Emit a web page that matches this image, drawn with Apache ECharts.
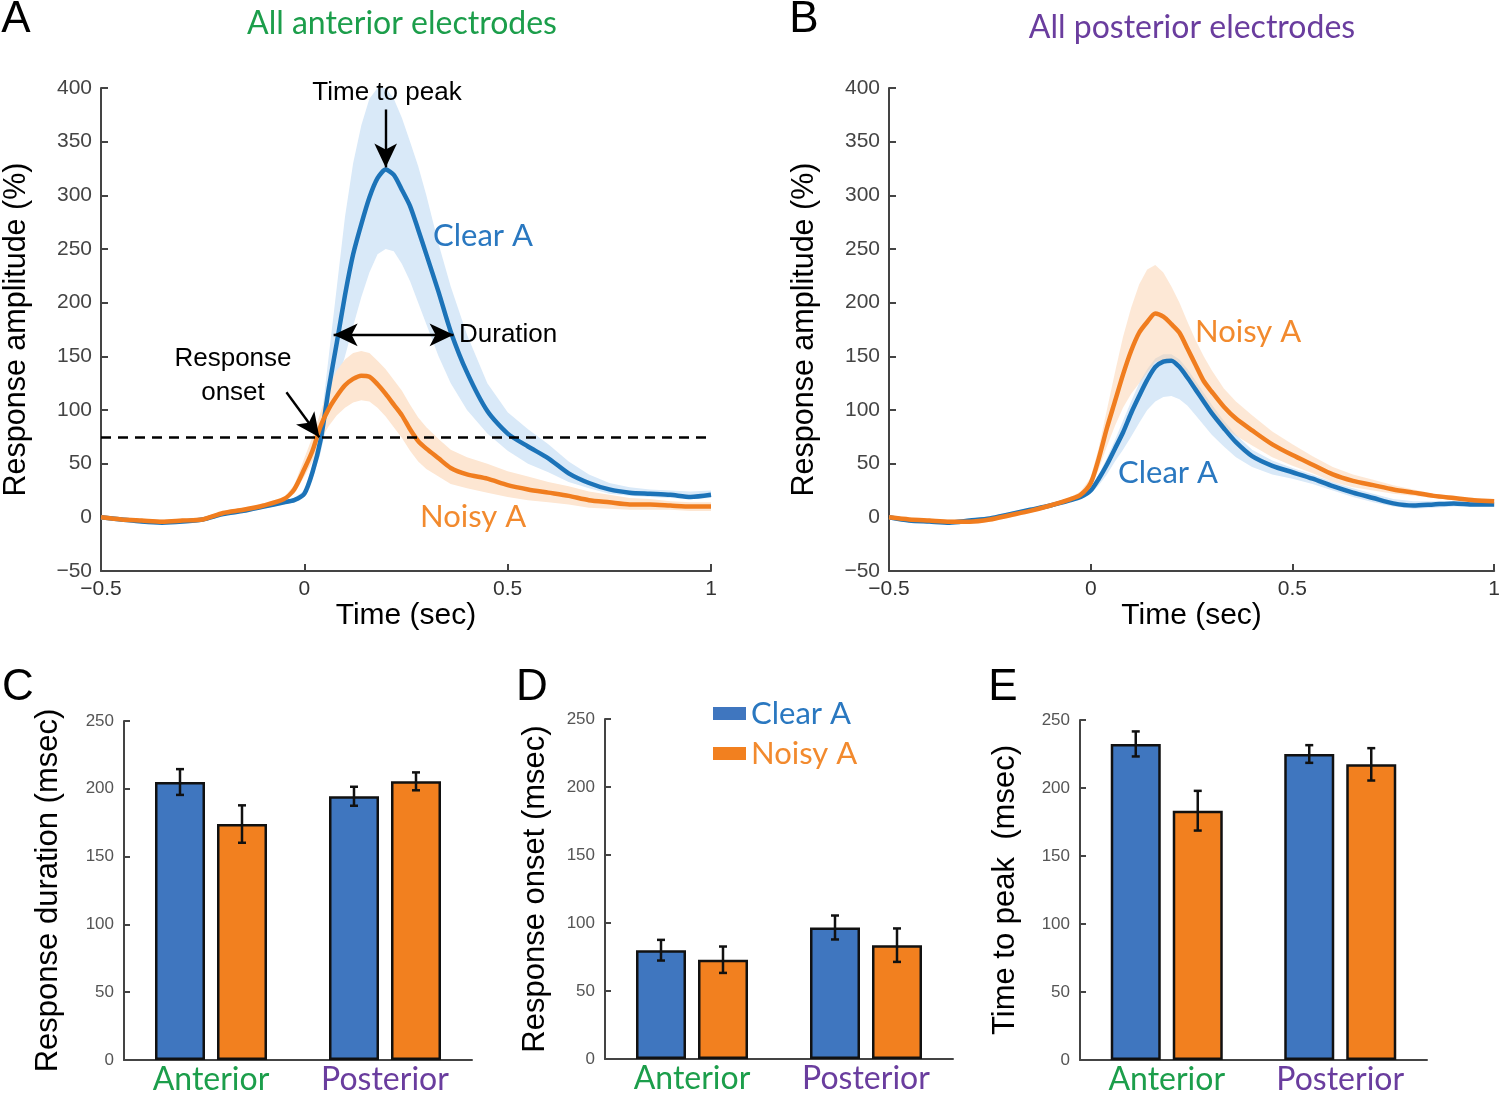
<!DOCTYPE html>
<html>
<head>
<meta charset="utf-8">
<script src="https://cdn.jsdelivr.net/npm/echarts@6/dist/echarts.min.js"></script>
<style>
html,body{margin:0;padding:0;background:#fff;}
#chart{width:1503px;height:1096px;}
</style>
</head>
<body>
<div id="chart"></div>
<script>
// ---------------- DATA ----------------
// time (sec) sample points for panels A and B
const times = [-0.5,-0.45,-0.4,-0.35,-0.3,-0.25,-0.2,-0.15,-0.1,-0.05,-0.025,0,0.02,0.04,0.06,0.08,0.1,0.12,0.14,0.16,0.18,0.2,0.22,0.24,0.26,0.28,0.3,0.33,0.36,0.4,0.45,0.5,0.55,0.6,0.65,0.7,0.75,0.8,0.85,0.9,0.95,1.0];

// Panel A: all anterior electrodes (response amplitude, %)
const antClear      = [0,-2,-4,-5,-4,-2,3,6,10,14,16,22,42,72,120,163,207,245,273,298,316,324,319,305,290,268,245,210,173,135,99,78,66,55,41,32,26,23,22,21,19,21];
const antClearUpper = [2,0,-2,-3,-2,0,5,8,12,16,18,25,48,85,150,215,280,330,365,390,400,400,390,372,350,327,300,255,215,170,125,98,82,68,52,40,32,28,26,25,24,25];
const antClearLower = [-2,-4,-6,-7,-6,-4,1,4,8,12,14,19,36,60,95,125,150,178,205,228,245,250,248,236,220,200,180,150,125,100,78,62,50,42,33,27,22,20,19,18,17,18];
const antNoisy      = [0,-2,-3,-4,-3,-2,4,7,11,17,26,45,62,85,101,113,123,129,132,131,124,115,105,95,82,71,64,55,46,40,36,30,26,23,20,16,14,12,12,11,10,10];
const antNoisyUpper = [2,0,-1,-2,-1,0,6,9,13,19,30,55,75,98,122,137,147,153,155,153,146,138,128,118,105,93,84,73,63,56,50,43,38,33,29,24,21,18,17,15,14,14];
const antNoisyLower = [-2,-4,-5,-6,-5,-4,2,5,9,15,22,38,52,72,85,95,102,107,109,108,102,94,84,74,62,52,45,38,31,27,23,19,16,14,12,9,8,7,7,7,6,6];

// Panel B: all posterior electrodes
const postClear      = [0,-3,-4,-5,-3,-1,3,7,11,16,19,25,36,49,64,79,97,113,128,140,145,146,140,130,119,108,97,83,70,57,48,42,36,29,23,18,13,11,12,13,12,12];
const postClearUpper = [2,-1,-2,-3,-1,1,5,9,13,18,21,27,40,55,72,90,108,125,138,148,152,152,147,138,127,116,105,90,77,63,53,46,40,33,27,22,17,15,15,15,14,14];
const postClearLower = [-2,-5,-6,-7,-5,-3,1,5,9,14,17,22,30,40,52,63,75,88,100,108,112,113,110,104,95,86,77,66,56,47,40,36,31,25,19,14,10,8,9,10,10,10];
const postNoisy      = [0,-2,-3,-4,-4,-2,2,6,11,17,21,32,55,83,108,133,155,172,182,190,187,180,172,157,142,127,117,103,92,81,68,58,49,40,34,30,26,23,20,18,16,15];
const postNoisyUpper = [2,0,-1,-2,-2,0,4,8,13,19,24,37,65,100,135,168,195,217,231,235,228,215,200,182,165,150,137,120,108,95,80,68,57,47,40,35,30,26,22,20,18,17];
const postNoisyLower = [-2,-4,-5,-6,-6,-4,0,4,9,15,18,27,45,66,85,102,115,125,135,145,146,145,144,132,121,106,97,84,76,67,56,48,41,33,28,25,22,20,18,16,14,13];

// Bar panels
const groups = ['Anterior','Posterior'];
const durationClear = [205, 194.5];  const durationClearErr = [9.5, 7];
const durationNoisy = [174, 205.5];  const durationNoisyErr = [13.8, 6.6];
const onsetClear    = [80, 96.7];    const onsetClearErr    = [7.6, 8.8];
const onsetNoisy    = [73, 83.7];    const onsetNoisyErr    = [9.7, 12.3];
const peakClear     = [232.4, 225];  const peakClearErr     = [9.2, 6.5];
const peakNoisy     = [183.3, 217.4];const peakNoisyErr     = [14.6, 11.9];

const ampTicks = [-50,0,50,100,150,200,250,300,350,400];
const timeTicks = [-0.5,0,0.5,1];
const msecTicks = [0,50,100,150,200,250];
const threshold = 75;

// ---------------- STYLE ----------------
const BLUE = '#1c73b8', ORANGE = '#f07d1f';
const BLUE_BAND = '#d9e9f8', ORANGE_BAND = '#fde6d2';
const BAR_BLUE = '#3f76bf', BAR_ORANGE = '#f2801f';
const GREEN = '#1c9e4b', PURPLE = '#6a3d9e';
const HELV = '"Liberation Sans", Arial, sans-serif';
const MYR = 'Lato, "Open Sans", sans-serif';
const AX = '#444';
const BAR_W = 50, BAR_GAP = 12;

const fmtNum = v => (v < 0 ? '\u2212' + Math.abs(v) : String(v));

function pairs(xs, ys){ return xs.map((x,i)=>[x, ys[i]]); }

function bandSeries(idx, upper, lower, color, z){
  return {
    type:'custom', xAxisIndex:idx, yAxisIndex:idx, silent:true, z:z, clip:true,
    data:[[times[0], lower[0]]],
    renderItem:function(params, api){
      const pts = [];
      for (let i=0;i<times.length;i++) pts.push(api.coord([times[i], upper[i]]));
      for (let i=times.length-1;i>=0;i--) pts.push(api.coord([times[i], lower[i]]));
      return {type:'polygon', shape:{points:pts}, style:{fill:color}};
    }
  };
}
function lineSeries(idx, name, vals, color, z, extra){
  return Object.assign({
    type:'line', name:name, xAxisIndex:idx, yAxisIndex:idx, data:pairs(times, vals),
    showSymbol:false, smooth:0.25, z:z, silent:true,
    lineStyle:{color:color, width:4.5}, itemStyle:{color:color}
  }, extra||{});
}
function valueAxisX(idx, name){
  return {
    type:'value', gridIndex:idx, min:-0.5, max:1, interval:0.5,
    axisLine:{onZero:false, lineStyle:{color:AX, width:2}},
    axisTick:{inside:true, length:7, lineStyle:{color:AX, width:2}},
    axisLabel:{formatter:fmtNum, color:'#333', fontSize:21, fontFamily:HELV, margin:8},
    splitLine:{show:false},
    name:name, nameLocation:'middle', nameGap:30,
    nameTextStyle:{color:'#000', fontSize:30, fontFamily:HELV}
  };
}
function valueAxisY(idx, name){
  return {
    type:'value', gridIndex:idx, min:-50, max:400, interval:50,
    axisLine:{show:true, onZero:false, lineStyle:{color:AX, width:2}},
    axisTick:{show:true, inside:true, length:7, lineStyle:{color:AX, width:2}},
    axisLabel:{formatter:fmtNum, color:'#444', fontSize:21, fontFamily:HELV, margin:9},
    splitLine:{show:false},
    name:name, nameLocation:'middle', nameGap:69,
    nameTextStyle:{color:'#000', fontSize:30.5, fontFamily:HELV}
  };
}
function catAxis(idx){
  return {
    type:'category', gridIndex:idx, data:groups,
    axisLine:{lineStyle:{color:AX, width:2}},
    axisTick:{show:false},
    axisLabel:{margin:4, interval:0, fontSize:32, fontFamily:MYR, hideOverlap:false,
      formatter:v => '{' + (v==='Anterior'?'a':'p') + '|' + v + '}',
      rich:{a:{color:GREEN, fontSize:32, fontFamily:MYR}, p:{color:PURPLE, fontSize:32, fontFamily:MYR}}}
  };
}
function msecAxis(idx, name, gap){
  return {
    type:'value', gridIndex:idx, min:0, max:250, interval:50,
    axisLine:{show:true, lineStyle:{color:AX, width:2}},
    axisTick:{show:true, inside:true, length:6, lineStyle:{color:AX, width:2}},
    axisLabel:{color:'#555', fontSize:17, fontFamily:HELV, margin:10},
    splitLine:{show:false},
    name:name, nameLocation:'middle', nameGap:gap,
    nameTextStyle:{color:'#000', fontSize:31, fontFamily:HELV}
  };
}
function barSeries(idx, name, vals, color){
  return {
    type:'bar', name:name, xAxisIndex:idx, yAxisIndex:idx, data:vals,
    barWidth:BAR_W, barGap:(BAR_GAP/BAR_W*100)+'%', silent:true,
    itemStyle:{color:color, borderColor:'#111', borderWidth:2.5}
  };
}
function errSeries(idx, clear, clearErr, noisy, noisyErr){
  const data = [];
  for (let i=0;i<groups.length;i++){
    data.push([i, clear[i]-clearErr[i], clear[i]+clearErr[i], -1]);
    data.push([i, noisy[i]-noisyErr[i], noisy[i]+noisyErr[i], 1]);
  }
  return {
    type:'custom', xAxisIndex:idx, yAxisIndex:idx, silent:true, z:5,
    encode:{x:0, y:[1,2]}, data:data,
    renderItem:function(params, api){
      const lo = api.coord([api.value(0), api.value(1)]);
      const hi = api.coord([api.value(0), api.value(2)]);
      const x = lo[0] + api.value(3)*(BAR_W+BAR_GAP)/2;
      const cap = 4;
      const st = {stroke:'#111', lineWidth:2.5};
      return {type:'group', children:[
        {type:'line', shape:{x1:x, y1:lo[1], x2:x, y2:hi[1]}, style:st},
        {type:'line', shape:{x1:x-cap, y1:lo[1], x2:x+cap, y2:lo[1]}, style:st},
        {type:'line', shape:{x1:x-cap, y1:hi[1], x2:x+cap, y2:hi[1]}, style:st}
      ]};
    }
  };
}

const arrowLines = {
  silent:true, symbol:['none','arrow'], symbolSize:[17,24],
  lineStyle:{color:'#000', width:2.4, type:'solid'}, label:{show:false},
  data:[
    [{coord:[0.2, 380]}, {coord:[0.2, 326]}],
    [{coord:[0.072, 170], symbol:'arrow'}, {coord:[0.367, 170], symbol:'arrow'}],
    [{coord:[-0.044, 116.5], symbol:'none'}, {coord:[0.037, 74.6], symbol:'arrow'}],
    [{coord:[-0.5, threshold], symbol:'none'}, {coord:[1, threshold], symbol:'none', lineStyle:{type:[10,7], width:2.5}}]
  ]
};

function txt(text, x, y, size, color, family, align){
  return {type:'text', x:x, y:y, silent:true, z:100, zlevel:0,
    style:{text:text, fill:color, font: size+'px '+family, textAlign:align||'center', textVerticalAlign:'middle'}};
}

const option = {
  backgroundColor:'#fff',
  animation:false,
  grid:[
    {left:99, top:88, width:612, height:483},
    {left:889, top:88, width:612, height:483},
    {left:124, top:721, width:348, height:341},
    {left:605, top:719, width:348, height:340},
    {left:1080, top:720, width:347, height:340}
  ],
  xAxis:[
    valueAxisX(0, 'Time (sec)'),
    valueAxisX(1, 'Time (sec)'),
    catAxis(2), catAxis(3), catAxis(4)
  ],
  yAxis:[
    valueAxisY(0, 'Response amplitude (%)'),
    valueAxisY(1, 'Response amplitude (%)'),
    msecAxis(2, 'Response duration (msec)', 60),
    msecAxis(3, 'Response onset (msec)', 54),
    msecAxis(4, 'Time to peak  (msec)', 59)
  ],
  legend:{
    show:true, left:708, top:693, orient:'vertical', itemWidth:33, itemHeight:13, itemGap:9,
    icon:'rect', itemStyle:{borderWidth:0},
    data:[
      {name:'Clear A', textStyle:{color:'#2a78c0', fontSize:31, fontFamily:MYR}},
      {name:'Noisy A', textStyle:{color:'#f28a2e', fontSize:31, fontFamily:MYR}}
    ],
    selectedMode:false
  },
  graphic:[
    txt('A', 16, 20, 44, '#000', HELV),
    txt('B', 804, 20, 44, '#000', HELV),
    txt('C', 18, 688, 44, '#000', HELV),
    txt('D', 532, 688, 44, '#000', HELV),
    txt('E', 1003, 688, 44, '#000', HELV),
    txt('All anterior electrodes', 402, 24, 32, GREEN, MYR),
    txt('All posterior electrodes', 1192, 28, 32, PURPLE, MYR),
    txt('Time to peak', 387, 93, 26, '#000', HELV),
    txt('Duration', 459, 335, 26, '#000', HELV, 'left'),
    txt('Response', 233, 359, 26, '#000', HELV),
    txt('onset', 233, 393, 26, '#000', HELV),
    txt('Clear A', 433, 236, 31, '#2a78c0', MYR, 'left'),
    txt('Noisy A', 420, 517, 31, '#f28a2e', MYR, 'left'),
    txt('Noisy A', 1195, 332, 31, '#f28a2e', MYR, 'left'),
    txt('Clear A', 1118, 473, 31, '#2a78c0', MYR, 'left')
  ],
  series:[
    bandSeries(0, antClearUpper, antClearLower, BLUE_BAND, 1),
    bandSeries(0, antNoisyUpper, antNoisyLower, ORANGE_BAND, 1),
    lineSeries(0, 'Clear A anterior', antClear, BLUE, 3, {markLine:arrowLines}),
    lineSeries(0, 'Noisy A anterior', antNoisy, ORANGE, 4),
    bandSeries(1, postClearUpper, postClearLower, BLUE_BAND, 1),
    lineSeries(1, 'Clear A posterior', postClear, BLUE, 2),
    bandSeries(1, postNoisyUpper, postNoisyLower, 'rgba(250,205,165,0.45)', 2),
    lineSeries(1, 'Noisy A posterior', postNoisy, ORANGE, 4),
    barSeries(2, 'Clear A', durationClear, BAR_BLUE),
    barSeries(2, 'Noisy A', durationNoisy, BAR_ORANGE),
    errSeries(2, durationClear, durationClearErr, durationNoisy, durationNoisyErr),
    barSeries(3, 'Clear A', onsetClear, BAR_BLUE),
    barSeries(3, 'Noisy A', onsetNoisy, BAR_ORANGE),
    errSeries(3, onsetClear, onsetClearErr, onsetNoisy, onsetNoisyErr),
    barSeries(4, 'Clear A', peakClear, BAR_BLUE),
    barSeries(4, 'Noisy A', peakNoisy, BAR_ORANGE),
    errSeries(4, peakClear, peakClearErr, peakNoisy, peakNoisyErr)
  ]
};
const chart = echarts.init(document.getElementById('chart'), null, {renderer:'canvas'});
chart.setOption(option);
</script>
</body>
</html>
